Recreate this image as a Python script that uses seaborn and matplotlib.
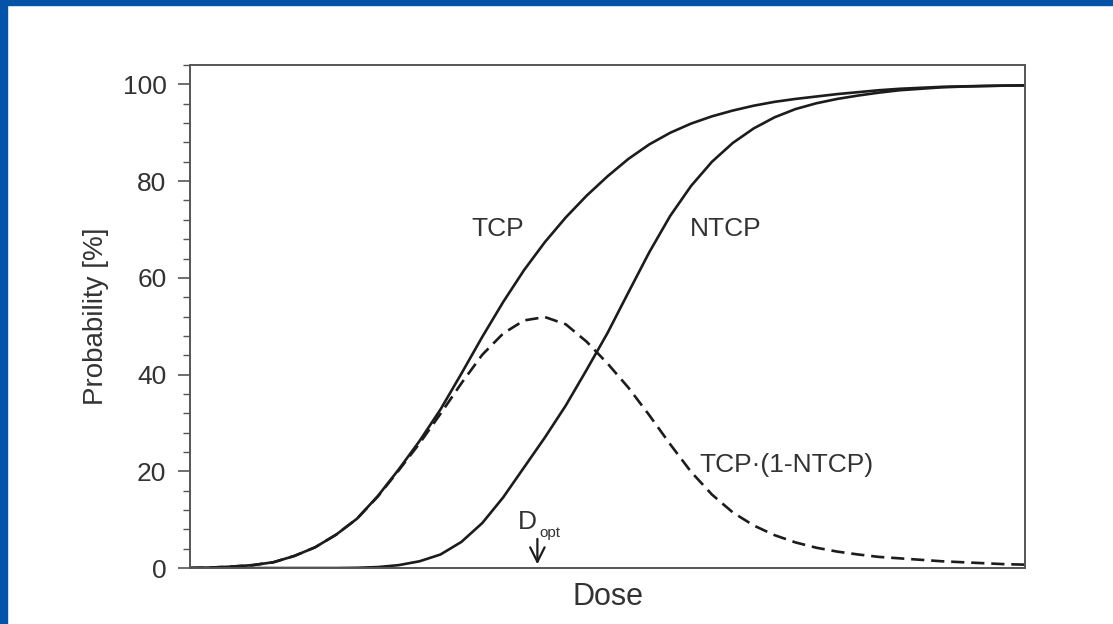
import numpy as np
import matplotlib
matplotlib.use('Agg')
import matplotlib.pyplot as plt
from matplotlib.patches import Rectangle
from matplotlib.ticker import MultipleLocator, NullLocator
import seaborn as sns

# Dose axis (arbitrary units, no tick labels in the original)
dose = [0, 2.5, 5, 7.5, 10, 12.5, 15, 17.5, 20, 22.5, 25, 27.5, 30, 32.5, 35,
        37.5, 40, 42.5, 45, 47.5, 50, 52.5, 55, 57.5, 60, 62.5, 65, 67.5, 70,
        72.5, 75, 77.5, 80, 82.5, 85, 87.5, 90, 92.5, 95, 97.5, 100]

# Tumour control probability [%]
tcp = [0, 0.1, 0.3, 0.6, 1.2, 2.5, 4.3, 6.9, 10.2, 14.9, 20.4, 26.3, 32.8, 40.2,
       47.8, 55.0, 61.6, 67.4, 72.5, 77.0, 81.0, 84.6, 87.6, 90.0, 91.9, 93.4,
       94.6, 95.6, 96.4, 97.0, 97.5, 98.0, 98.4, 98.8, 99.1, 99.3, 99.5, 99.6,
       99.7, 99.75, 99.8]

# Normal tissue complication probability [%]
ntcp = [0, 0, 0, 0, 0, 0, 0, 0, 0.05, 0.2, 0.6, 1.4, 2.8, 5.4, 9.3, 14.6, 20.8,
        27.0, 33.6, 41.0, 48.6, 57.0, 65.3, 72.8, 79.0, 84.0, 87.9, 90.9, 93.2,
        94.9, 96.1, 97.0, 97.7, 98.3, 98.8, 99.1, 99.4, 99.55, 99.65, 99.75, 99.8]

# Uncomplicated tumour control TCP*(1-NTCP) [%]
utcp = [0, 0.1, 0.3, 0.6, 1.2, 2.5, 4.3, 6.9, 10.2, 14.8, 20.2, 25.8, 31.9, 38.2,
       44.1, 48.5, 51.2, 51.9, 50.4, 46.8, 42.3, 37.3, 31.6, 25.6, 19.9, 15.2,
       11.5, 8.8, 6.8, 5.3, 4.2, 3.4, 2.8, 2.3, 2.0, 1.7, 1.4, 1.2, 1.0, 0.8, 0.7]

d_opt = 41.6

sns.set_theme(style='white')
plt.rcParams['font.family'] = ['Liberation Sans', 'DejaVu Sans']

fig = plt.figure(figsize=(11.13, 6.24), dpi=100)
fig.patch.set_facecolor('white')

# slide border in blue
fig.patches.append(Rectangle((0, 0.992), 1, 0.008, transform=fig.transFigure,
                             color='#0553a6', zorder=0))
fig.patches.append(Rectangle((0, 0), 0.0065, 1, transform=fig.transFigure,
                             color='#0553a6', zorder=0))

ax = fig.add_axes([0.1707, 0.0897, 0.7503, 0.806])

line_col = '#1c1c1c'
sns.lineplot(x=dose, y=tcp, ax=ax, color=line_col, linewidth=1.9)
sns.lineplot(x=dose, y=ntcp, ax=ax, color=line_col, linewidth=1.9)
sns.lineplot(x=dose, y=utcp, ax=ax, color=line_col, linewidth=1.9,
             linestyle=(0, (5, 2.6)))

ax.set_xlim(0, 100)
ax.set_ylim(0, 104)
ax.yaxis.set_major_locator(MultipleLocator(20))
ax.yaxis.set_minor_locator(MultipleLocator(4))
ax.xaxis.set_major_locator(NullLocator())

for s in ax.spines.values():
    s.set_color('#555555')
    s.set_linewidth(1.4)

ax.tick_params(axis='y', which='major', direction='out', length=9, width=1.2,
               color='#555555', labelsize=19, labelcolor='#333333', pad=8, left=True)
ax.tick_params(axis='y', which='minor', direction='out', length=5, width=1.0,
               color='#555555', left=True)

ax.set_ylabel('Probability [%]', fontsize=20, color='#333333', labelpad=10)
ax.set_xlabel('Dose', fontsize=22, color='#333333', labelpad=10)

txt = dict(color='#333333', fontsize=19)
ax.text(36.8, 70.2, 'TCP', ha='center', va='center', **txt)
ax.text(64.1, 70.2, 'NTCP', ha='center', va='center', **txt)
ax.text(61.0, 21.3, 'TCP·(1-NTCP)', ha='left', va='center', **txt)

# D_opt marker
ax.text(40.4, 9.6, 'D', ha='center', va='center', color='#333333', fontsize=19)
ax.text(41.8, 7.2, 'opt', ha='left', va='center', color='#333333', fontsize=11)
ax.annotate('', xy=(d_opt, 0.2), xytext=(d_opt, 6.6),
            arrowprops=dict(arrowstyle='->', color=line_col, lw=1.6,
                            mutation_scale=26))

plt.savefig('out.png', dpi=100)
